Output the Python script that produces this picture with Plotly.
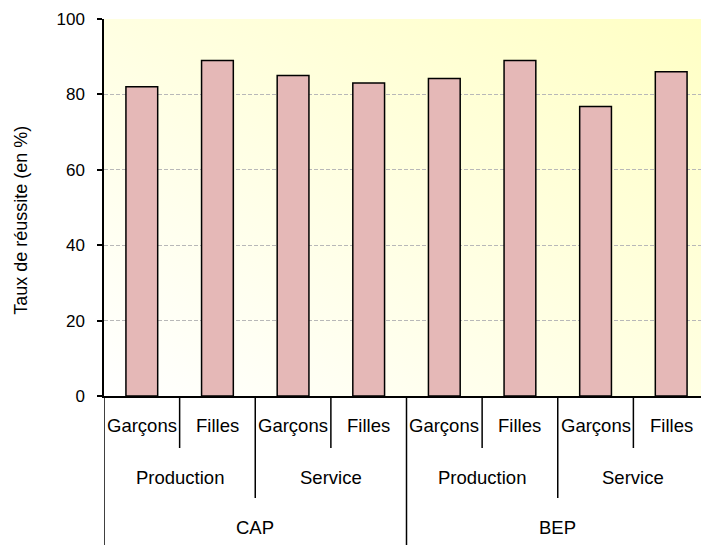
import plotly.graph_objects as go
import base64

# ---- data ----
diplomes = ["CAP", "CAP", "CAP", "CAP", "BEP", "BEP", "BEP", "BEP"]
secteurs = ["Production", "Production", "Service", "Service",
            "Production", "Production", "Service", "Service"]
sexes = ["Garçons", "Filles", "Garçons", "Filles",
         "Garçons", "Filles", "Garçons", "Filles"]
taux = [82.0, 89.0, 85.0, 83.0, 84.2, 89.0, 76.8, 86.0]
y_ticks = [0, 20, 40, 60, 80, 100]

cats = [f"{d}|{s}|{g}" for d, s, g in zip(diplomes, secteurs, sexes)]

FONT = "Liberation Sans, Arial, sans-serif"
CAT_SIZE = 18.5

fig = go.Figure()
fig.add_trace(go.Bar(
    x=cats, y=taux, width=0.42,
    marker=dict(color="#E5B8B7", line=dict(color="black", width=1.5)),
    hoverinfo="x+y",
))

# gradient background image
svg = ('<svg xmlns="http://www.w3.org/2000/svg" width="100" height="100" preserveAspectRatio="none">'
       '<defs><linearGradient id="g" x1="0" y1="1" x2="1" y2="0">'
       '<stop offset="0" stop-color="#FFFFFF"/><stop offset="1" stop-color="#FFFFC4"/>'
       '</linearGradient></defs><rect width="100" height="100" fill="url(#g)"/></svg>')
src = "data:image/svg+xml;base64," + base64.b64encode(svg.encode()).decode()
fig.add_layout_image(dict(source=src, xref="paper", yref="paper", x=0, y=1,
                          sizex=1, sizey=1, sizing="stretch", layer="below"))

# hierarchical category axis
n = len(cats)
row_y = [-0.077, -0.215, -0.3475]
line_bottom = [-0.138, -0.2706, -0.40]

for i, g in enumerate(sexes):
    fig.add_annotation(x=i, y=row_y[0], xref="x", yref="paper", text=g,
                       xanchor="center", yanchor="middle",
                       showarrow=False, font=dict(size=CAT_SIZE, color="black", family=FONT))

def groups(labels, keys):
    out = []
    start = 0
    for i in range(1, len(keys) + 1):
        if i == len(keys) or keys[i] != keys[start]:
            out.append((start, i - 1, labels[start]))
            start = i
    return out

lvl2 = groups(secteurs, [d + s for d, s in zip(diplomes, secteurs)])
lvl3 = groups(diplomes, diplomes)
for a, b, lab in lvl2:
    fig.add_annotation(x=(a + b) / 2, y=row_y[1], xref="x", yref="paper", text=lab,
                       xanchor="center", yanchor="middle",
                       showarrow=False, font=dict(size=CAT_SIZE, color="black", family=FONT))
for a, b, lab in lvl3:
    fig.add_annotation(x=(a + b) / 2, y=row_y[2], xref="x", yref="paper", text=lab,
                       xanchor="center", yanchor="middle",
                       showarrow=False, font=dict(size=CAT_SIZE, color="black", family=FONT))

# divider lines
lvl2_bounds = {b + 0.5 for a, b, _ in lvl2}
lvl3_bounds = {b + 0.5 for a, b, _ in lvl3}
for k in range(n - 1):
    pos = k + 0.5
    if pos in lvl3_bounds:
        yb = line_bottom[2]
    elif pos in lvl2_bounds:
        yb = line_bottom[1]
    else:
        yb = line_bottom[0]
    fig.add_shape(type="line", xref="x", yref="paper", x0=pos, x1=pos, y0=0, y1=yb,
                  line=dict(color="black", width=1.5))
fig.add_shape(type="line", xref="x", yref="paper", x0=-0.5, x1=-0.5, y0=0, y1=line_bottom[2],
              line=dict(color="black", width=1.5))

# y-axis title
fig.add_annotation(x=-0.137, y=0.465, xref="paper", yref="paper", text="Taux de réussite (en %)",
                   textangle=-90, xanchor="center", yanchor="middle",
                   showarrow=False, font=dict(size=18, color="black", family=FONT))

# page body has an 8px margin; compensate so the plot area sits at x 104-709, y 19-396
fig.update_layout(
    width=709, height=545,
    margin=dict(l=96, r=8, t=11, b=157, autoexpand=False),
    paper_bgcolor="white", plot_bgcolor="rgba(0,0,0,0)",
    showlegend=False,
    font=dict(family=FONT, color="black"),
    xaxis=dict(type="category", range=[-0.5, n - 0.5], showticklabels=False,
               showgrid=False, showline=True, linecolor="black", linewidth=1.5,
               ticks="", zeroline=False, automargin=False),
    yaxis=dict(range=[0, 100], tickvals=y_ticks, ticktext=[str(v) for v in y_ticks],
               showgrid=True, gridcolor="#B8B8B8", griddash="4px,2px", gridwidth=1,
               showline=True, linecolor="black", linewidth=1.5,
               ticks="outside", ticklen=5, tickcolor="black", tickwidth=1.5,
               ticklabelstandoff=9,
               tickfont=dict(size=17, color="black", family=FONT), zeroline=False,
               automargin=False),
)

fig.write_html("out.html")
